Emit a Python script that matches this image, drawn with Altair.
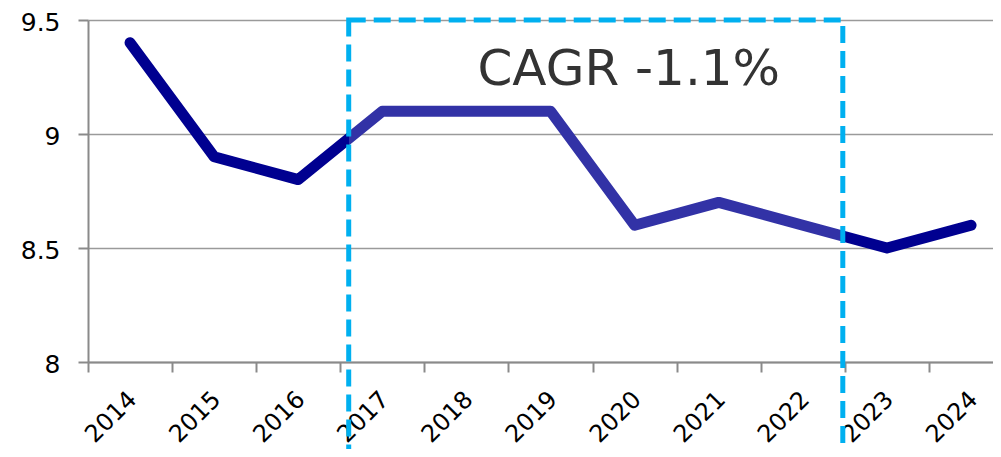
import altair as alt
import pandas as pd

# ---- data ----
years = ["2014", "2015", "2016", "2017", "2018", "2019", "2020", "2021", "2022", "2023", "2024"]
values = [9.4, 8.9, 8.8, 9.1, 9.1, 9.1, 8.6, 8.7, 8.6, 8.5, 8.6]
y_ticks = [8, 8.5, 9, 9.5]
cagr_text = "CAGR -1.1%"
box_years = ["2017", "2018", "2019", "2020", "2021", "2022"]

# annotation anchors: (year, position inside that year's slot)
box_left_year, box_left_pos = "2017", 0.1
box_right_year, box_right_pos = "2022", 0.975
box_top, box_bottom = 9.5, 7.3
text_year, text_pos, text_y = "2020", 0.43, 9.28

DARK = "#000090"
LIGHT = "#3232a6"
CYAN = "#00B0F0"
GRAY = "#8a8a8a"
FONT = "DejaVu Sans"

PLOT_W, PLOT_H = 905, 342
SLOT_PX = 84.1            # width of one year slot in pixels
x_max = PLOT_W / SLOT_PX  # visible slots (last one is cut by the page edge)

n = len(years)
df = pd.DataFrame({"year": years, "value": values, "xi": [i + 0.5 for i in range(n)]})
bl = years.index(box_left_year) + box_left_pos
br = years.index(box_right_year) + box_right_pos
box_df = pd.DataFrame({"x": [bl], "x2": [br], "y": [box_top], "y2": [box_bottom]})
txt_df = pd.DataFrame({"x": [years.index(text_year) + text_pos], "y": [text_y], "t": [cagr_text]})

# gradient so the line changes colour at the box edges
first_c, last_c = 0.5, n - 0.5
o1 = (bl - first_c) / (last_c - first_c)
o2 = (br - first_c) / (last_c - first_c)
grad = alt.LinearGradient(
    gradient="linear", x1=0, x2=1, y1=0, y2=0,
    stops=[
        alt.GradientStop(offset=0, color=DARK),
        alt.GradientStop(offset=o1, color=DARK),
        alt.GradientStop(offset=o1, color=LIGHT),
        alt.GradientStop(offset=o2, color=LIGHT),
        alt.GradientStop(offset=o2, color=DARK),
        alt.GradientStop(offset=1, color=DARK),
    ],
)

xscale = alt.Scale(domain=[0, x_max], nice=False, zero=False)
yscale = alt.Scale(domain=[8, 9.5], nice=False, zero=False)

years_js = "[" + ",".join("'" + y + "'" for y in years) + "]"
box_js = "[" + ",".join("'" + y + "'" for y in box_years) + "]"
tick_vals = [i * 0.5 for i in range(2 * n + 1)]

x_axis = alt.Axis(
    title=None, values=tick_vals,
    labelExpr="datum.value % 1 == 0.5 ? " + years_js + "[floor(datum.value)] : ''",
    labelAngle=-45, labelAlign="right", labelBaseline="top",
    labelFontSize=24, labelFont=FONT,
    labelColor=alt.expr("indexof(" + box_js + ", datum.label) >= 0 ? '#484848' : '#000000'"),
    labelPadding=15, labelOffset=-6, labelFlush=False, labelOverlap=False,
    tickSize=10, tickColor=GRAY, tickWidth=2,
    tickOpacity=alt.expr("datum.value % 1 == 0 ? 1 : 0"),
    domainColor=GRAY, domainWidth=2, grid=False,
)
y_axis = alt.Axis(
    title=None, values=y_ticks, format="~g", labelFontSize=25, labelFont=FONT,
    labelColor="#000000", labelPadding=18, labelOffset=2, tickSize=10, tickColor=GRAY,
    tickWidth=2, domainColor=GRAY, domainWidth=2, grid=True,
    gridColor="#9a9a9a", gridWidth=1.5,
)

line = alt.Chart(df).mark_line(
    color=grad, strokeWidth=11, strokeCap="round", strokeJoin="round"
).encode(
    x=alt.X("xi:Q", scale=xscale, axis=x_axis),
    y=alt.Y("value:Q", scale=yscale, axis=y_axis),
)

box = alt.Chart(box_df).mark_rect(
    fillOpacity=0, fill="white", stroke=CYAN, strokeWidth=5, strokeDash=[17, 8]
).encode(
    x=alt.X("x:Q", scale=xscale),
    x2="x2",
    y=alt.Y("y:Q", scale=yscale),
    y2="y2",
)

text = alt.Chart(txt_df).mark_text(
    fontSize=50, font=FONT, color="#333333", align="center", baseline="middle"
).encode(
    x=alt.X("x:Q", scale=xscale),
    y=alt.Y("y:Q", scale=yscale),
    text="t:N",
)

chart = alt.layer(line, box, text).properties(
    width=PLOT_W, height=PLOT_H,
    autosize=alt.AutoSizeParams(type="none"),
    padding={"left": 80, "top": 12, "right": 0, "bottom": 87},
).configure_view(strokeWidth=0)

chart.save("out.html", embed_options={"renderer": "svg", "actions": False})
